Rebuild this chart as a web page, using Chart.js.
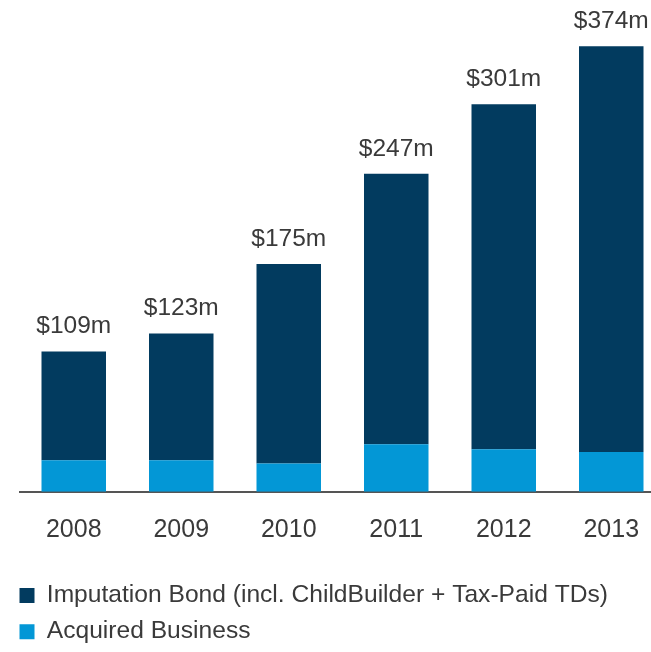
<!DOCTYPE html>
<html>
<head>
<meta charset="utf-8">
<script src="https://cdn.jsdelivr.net/npm/chart.js@4/dist/chart.umd.min.js"></script>
<style>
  html, body { margin: 0; padding: 0; background: #fff; overflow: hidden; }
  #wrap { width: 651px; height: 652px; overflow: hidden; }
  #box { width: 670px; height: 652px; }
</style>
</head>
<body>
<div id="wrap"><div id="box"><canvas id="myChart"></canvas></div></div>
<script>
// Data
const years = ["2008", "2009", "2010", "2011", "2012", "2013"];
const acquired = [24.5, 24.5, 22, 37, 33, 31];
const imputation = [84.5, 98.5, 155, 210, 268, 315];
const totalLabels = ["$109m", "$123m", "$175m", "$247m", "$301m", "$374m"];

const darkBlue = "#023b5f";
const lightBlue = "#0397d6";
const textColor = "#3a3a3a";
const fontFamily = "'Liberation Sans', Arial, sans-serif";

// draws the total above each stacked bar
const totalsPlugin = {
	id: "totals",
	afterDatasetsDraw(chart) {
		const ctx = chart.ctx;
		const meta = chart.getDatasetMeta(1);
		ctx.save();
		ctx.font = "24.5px " + fontFamily;
		ctx.fillStyle = textColor;
		ctx.textAlign = "center";
		ctx.textBaseline = "middle";
		meta.data.forEach(function(bar, i) {
			ctx.fillText(totalLabels[i], bar.x, bar.y - 25);
		});
		ctx.restore();
	}
};

const data = {
	labels: years,
	datasets: [{
		label: "Acquired Business",
		data: acquired,
		backgroundColor: lightBlue,
		borderWidth: 0
	},
	{
		label: "Imputation Bond (incl. ChildBuilder + Tax-Paid TDs)",
		data: imputation,
		backgroundColor: darkBlue,
		borderWidth: 0
	}]
};

const config = {
	type: "bar",
	data,
	options: {
		responsive: true,
		maintainAspectRatio: false,
		animation: false,
		layout: { padding: { top: 9, left: 8, right: 5, bottom: -2 } },
		datasets: { bar: { categoryPercentage: 1, barPercentage: 0.6 } },
		scales: {
			x: {
				stacked: true,
				grid: { display: false },
				border: { display: true, color: "#555", width: 2 },
				ticks: {
					color: textColor,
					padding: 15,
					font: { family: fontFamily, size: 25 }
				},
				afterFit(scale) { scale.height = 80; }
			},
			y: {
				stacked: true,
				min: 0,
				max: 375,
				grid: { display: false },
				border: { display: false },
				ticks: { display: false },
				afterFit(scale) { scale.width = 12; }
			}
		},
		plugins: {
			tooltip: { enabled: false },
			legend: {
				position: "bottom",
				align: "start",
				reverse: true,
				labels: {
					color: textColor,
					boxWidth: 15,
					boxHeight: 15,
					padding: 11.5,
					font: { family: fontFamily, size: 24.6 }
				}
			}
		}
	},
	plugins: [totalsPlugin]
};

new Chart(document.getElementById("myChart"), config);
</script>
</body>
</html>
